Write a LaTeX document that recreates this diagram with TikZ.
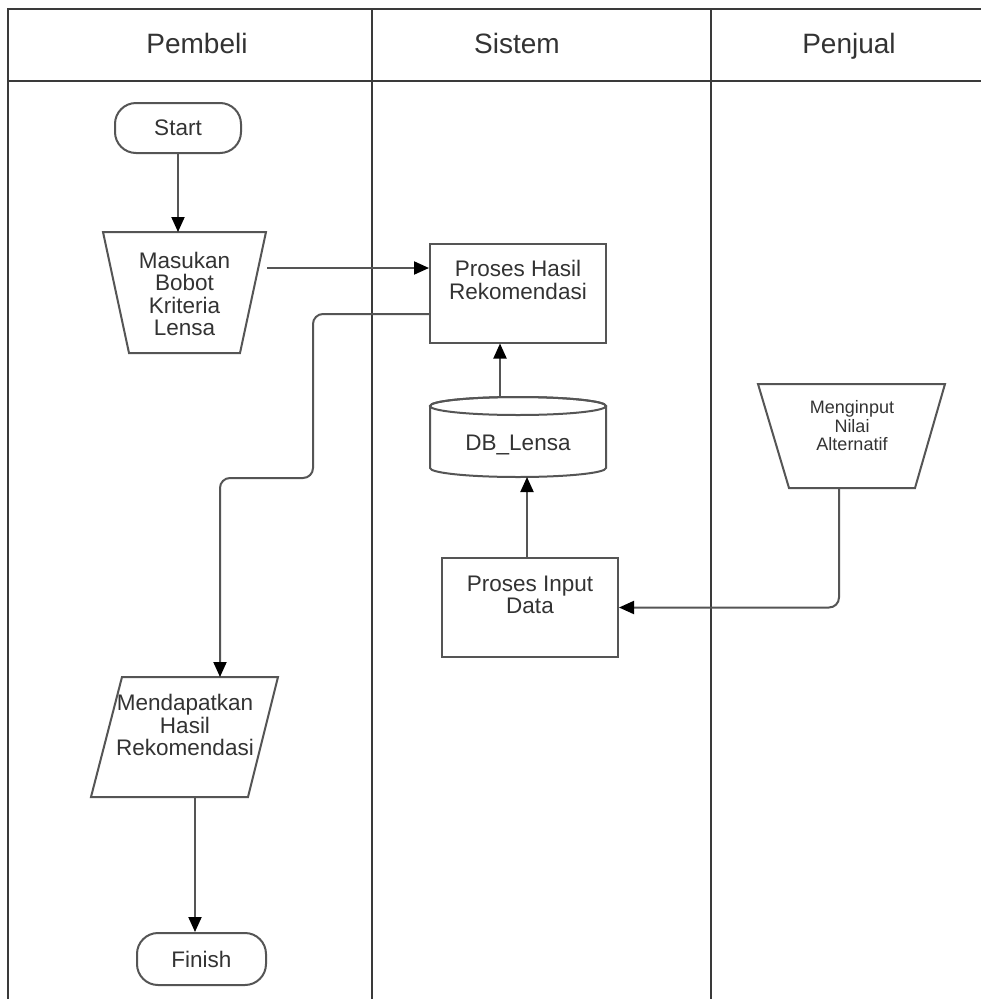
\documentclass[tikz,border=0pt]{standalone}
\usepackage{fontspec}
\setmainfont{Liberation Sans}
\usetikzlibrary{arrows.meta,calc}
\definecolor{lanec}{HTML}{3A3A3A}
\definecolor{shapec}{HTML}{555555}
\definecolor{txtc}{HTML}{333333}
\begin{document}
\begin{tikzpicture}[x=1pt,y=-1pt,
  lane/.style={draw=lanec, line width=2pt},
  shp/.style={draw=shapec, line width=2pt, fill=white},
  conn/.style={draw=shapec, line width=2pt, rounded corners=10pt},
  arr/.style={conn, -{Triangle[length=15pt,width=13pt,color=black,fill=black]}},
  body/.style={text=txtc, font=\fontsize{22.5}{22.5}\selectfont, align=center, inner sep=0pt},
  small/.style={text=txtc, font=\fontsize{18}{18.5}\selectfont, align=center, inner sep=0pt},
  head/.style={text=txtc, font=\fontsize{28}{30}\selectfont, inner sep=0pt, anchor=base},
  anchorbox/.style={inner sep=0pt, outer sep=0pt},
  termbox/.style={shp, rounded corners=21pt, body},
]
\fill[white] (0,0) rectangle (981,999);
\useasboundingbox (0,0) rectangle (981,999);

% swimlanes
\draw[lane] (8,999) -- (8,9) -- (981,9);
\draw[lane] (8,81) -- (981,81);
\draw[lane] (372,9) -- (372,999);
\draw[lane] (711,9) -- (711,999);
\node[head] (hpem) at (197,53) {Pembeli};
\node[head] (hsis) at (517,53) {Sistem};
\node[head] (hpen) at (849,53) {Penjual};

% Start
\node[termbox, minimum width=126pt, minimum height=50pt] (start) at (178,128) {Start};

% Masukan Bobot Kriteria Lensa (manual input trapezoid)
\node[anchorbox, minimum width=163pt, minimum height=121pt] (mas) at (184.5,292.5) {};
\draw[shp] (mas.north west) -- (mas.north east) -- ($(mas.south east)+(-26,0)$) -- ($(mas.south west)+(26,0)$) -- cycle;
\node[body] (mastxt) at (184.5,294) {Masukan\\Bobot\\Kriteria\\Lensa};

% Proses Hasil Rekomendasi
\node[shp, minimum width=176pt, minimum height=99pt, inner sep=0pt] (ph) at (518,293) {};
\node[body] (phtxt) at (518,280) {Proses Hasil\\Rekomendasi};

% DB_Lensa cylinder
\node[anchorbox, minimum width=176pt, minimum height=80pt] (db) at (518,437) {};
\draw[shp] ($(db.north west)+(0,9)$) -- ($(db.south west)+(0,-9)$)
  arc[start angle=180,end angle=360,x radius=88pt,y radius=9pt]
  -- ($(db.north east)+(0,9)$)
  arc[start angle=0,end angle=180,x radius=88pt,y radius=9pt] -- cycle;
\draw[draw=shapec, line width=2pt] ($(db.north)+(0,9)$) ellipse[x radius=88pt, y radius=9pt];
\node[body, anchor=base] (dbtxt) at (518,450) {DB\_Lensa};

% Proses Input Data
\node[shp, minimum width=176pt, minimum height=99pt, inner sep=0pt] (pi) at (530,607.5) {};
\node[body] (pitxt) at (530,595) {Proses Input\\Data};

% Menginput Nilai Alternatif
\node[anchorbox, minimum width=187pt, minimum height=104pt] (mi) at (851.5,436) {};
\draw[shp] (mi.north west) -- (mi.north east) -- ($(mi.south east)+(-30,0)$) -- ($(mi.south west)+(31,0)$) -- cycle;
\node[small] (mitxt) at (852,426) {Menginput\\Nilai\\Alternatif};

% Mendapatkan Hasil Rekomendasi (parallelogram)
\node[anchorbox, minimum width=187pt, minimum height=120pt] (md) at (184.5,737) {};
\draw[shp] ($(md.north west)+(31,0)$) -- (md.north east) -- ($(md.south east)+(-30,0)$) -- (md.south west) -- cycle;
\node[body] (mdtxt) at (185,725) {Mendapatkan\\Hasil\\Rekomendasi};

% Finish
\node[termbox, minimum width=129pt, minimum height=52pt] (fin) at (201.5,959) {Finish};

% connectors
\draw[arr] (start.south) -- (start.south |- mas.north);
\coordinate (m1) at ($(mas.north east)+(1,36)$);
\draw[arr] (m1) -- (m1 -| ph.west);
\draw[arr] ([xshift=-18pt]db.north) -- ([xshift=-18pt]db.north |- ph.south);
\draw[arr] ([xshift=-3pt]pi.north) -- ([xshift=-3pt]pi.north |- db.south);
\draw[arr] ([xshift=-12.5pt]mi.south) |- (pi.east);
\coordinate (bend) at (313,478);
\draw[arr] ($(ph.west)+(0,21)$) -| (bend) -| ([xshift=35.5pt]md.north);
\draw[arr] ([xshift=10.5pt]md.south) -- ([xshift=10.5pt]md.south |- fin.north);
\end{tikzpicture}
\end{document}
